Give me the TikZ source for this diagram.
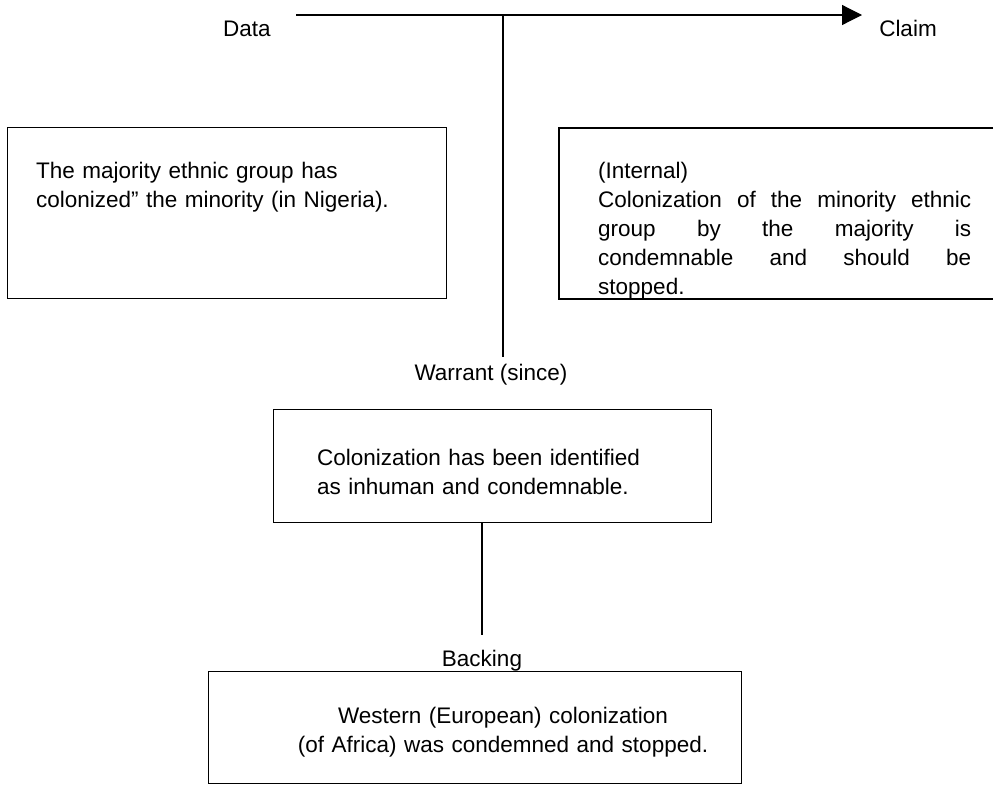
\documentclass[tikz,border=0pt]{standalone}
\usepackage{fontspec}
\setmainfont{Liberation Sans}
\usetikzlibrary{arrows.meta}
\newcommand{\jline}[1]{\leavevmode\hbox to 373pt{#1}}
\begin{document}
\begin{tikzpicture}[x=1pt,y=-1pt,
  txt/.style={inner sep=0pt, font=\fontsize{22.5}{29.2}\selectfont},
  para/.style={txt, anchor=base west, align=left},
  box/.style={draw, line width=1.3pt, inner sep=0pt, anchor=north west},
  conn/.style={line width=1.2pt}]
\useasboundingbox (0,0) rectangle (996,785);
% labels
\node[txt, anchor=base] (data) at (247,36) {Data};
\node[txt, anchor=base] (claim) at (908,36) {Claim};
\node[txt, anchor=base] (warrant) at (491,380) {Warrant (since)};
\node[txt, anchor=base] (backing) at (482,666) {Backing};
% arrow data -> claim
\coordinate (dstart) at (296,15);
\coordinate (cend) at (862,15);
\coordinate (junc) at (503,15);
\coordinate (wtop) at (503,357);
\draw[conn, -{Triangle[length=20pt,width=20pt]}] (dstart) -- (cend);
\draw[conn] (junc) -- (wtop);
% boxes
\node[box, minimum width=439pt, minimum height=171pt] (dbox) at (7,127) {};
\draw[line width=1.3pt] (993,128) -- (559,128) -- (559,299) -- (993,299);
\node[box, minimum width=438pt, minimum height=113pt] (wbox) at (273,409) {};
\node[box, minimum width=533pt, minimum height=112pt] (bbox) at (208,671) {};
\coordinate (btop) at (482,635);
\draw[conn] (wbox.south -| btop) -- (btop);
% texts
\node[para, text width=400pt] (dtext) at (36,178)
  {The majority ethnic group has\\colonized" the minority (in Nigeria).};
\node[para, text width=373pt] (ctext) at (598,178)
  {(Internal)\\
   \jline{Colonization\hfill of\hfill the\hfill minority\hfill ethnic}\\
   \jline{group\hfill by\hfill the\hfill majority\hfill is}\\
   \jline{condemnable\hfill and\hfill should\hfill be}\\
   stopped.};
\node[para, text width=400pt] (wtext) at (317,465)
  {Colonization has been identified\\as inhuman and condemnable.};
\node[txt, anchor=base, align=center, text width=480pt] (btext) at (503,723)
  {Western (European) colonization\\(of Africa) was condemned and stopped.};
\end{tikzpicture}
\end{document}
